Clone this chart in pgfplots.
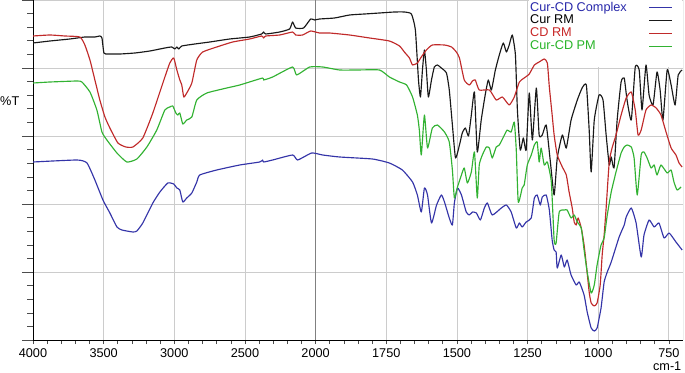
\documentclass[border=0pt]{standalone}
\usepackage{pgfplots}
\pgfplotsset{compat=1.18}
\usepackage{fontspec}
\setmainfont{Liberation Sans}
\definecolor{cblue}{RGB}{52,52,168}
\definecolor{cblack}{RGB}{25,25,25}
\definecolor{cred}{RGB}{192,42,42}
\definecolor{cgreen}{RGB}{50,178,50}
\definecolor{tblue}{RGB}{40,40,170}
\definecolor{tred}{RGB}{200,40,40}
\definecolor{tgreen}{RGB}{40,180,40}
\newcommand{\fs}{\fontsize{12.7}{15}\selectfont}
\begin{document}
\fs
\begin{tikzpicture}
\begin{axis}[
  scale only axis, width=650pt, height=340pt,
  xmin=0, xmax=9.2, ymin=0, ymax=340,
  axis x line*=bottom, axis y line*=left,
  axis line style={black, line width=0.8pt},
  xtick={0,...,9}, xticklabels={}, xmajorticks=false, xmajorgrids=true,
  ytick={0,68,...,340}, yticklabels={}, minor y tick num=4,
  ymajorgrids=true,
  tick align=outside, major tick length=11pt, minor tick length=6pt,
  tick style={black!70, line width=0.6pt},
  major grid style={color=black!20, line width=0.8pt},
  x filter/.expression={x>=2000 ? (4000-x)/500 : 4+(2000-x)/250},
  every axis plot/.append style={line width=1.15pt, smooth, tension=0.3, line join=round},
  legend cell align=left, legend plot pos=right,
  legend image code/.code={\draw[#1, line width=1pt, sharp plot] (0pt,0pt) -- (23pt,0pt);},
  legend style={at={(rel axis cs:0.7646,0.996)}, anchor=north west, draw=none, fill=none,
    inner sep=0pt, row sep=0.3pt, column sep=22pt,
    nodes={inner sep=0pt, text height=9.5pt, text depth=3pt, font=\fs}},
]
\fill[white] (rel axis cs:0.7625,0.803) rectangle (rel axis cs:0.998,1);
\draw[black!50, line width=0.9pt] (rel axis cs:0.43478,0) -- (rel axis cs:0.43478,1);
\draw[black!55, line width=0.8pt] (rel axis cs:1,0) -- (rel axis cs:1,1);
\coordinate (SW) at (rel axis cs:0,0);
\coordinate (SE) at (rel axis cs:1,0);
\coordinate (NE) at (rel axis cs:1,1);

\addplot[cblue] coordinates {(4000,178)(3689,180)(3618,177)(3562,160)(3505,140)(3456,127)(3406,113)(3371,110)(3293,108)(3265,109)(3223,117)(3152,137)(3102,148)(3046,157)(3004,156)(2982,152)(2961,150)(2940,138)(2912,142)(2876,147)(2841,158)(2820,165)(2700,170)(2537,175)(2396,178)(2375,180)(2368,178)(2304,180)(2163,185)(2127,180)(2028,187)(1975,185)(1915,183)(1799,181)(1739,177)(1693,170)(1657,158)(1640,145)(1626,128)(1615,152)(1604,145)(1590,117)(1572,135)(1555,145)(1544,138)(1527,122)(1516,115)(1509,137)(1498,152)(1484,145)(1467,128)(1456,125)(1445,128)(1431,127)(1417,120)(1403,132)(1392,137)(1375,125)(1343,132)(1325,135)(1308,128)(1290,112)(1279,117)(1269,113)(1255,118)(1237,122)(1226,142)(1216,145)(1205,135)(1198,143)(1184,145)(1173,130)(1163,100)(1156,90)(1149,88)(1145,72)(1131,85)(1120,73)(1110,80)(1096,65)(1078,55)(1067,58)(1050,45)(1039,28)(1025,12)(1014,9)(1004,12)(990,32)(979,58)(968,68)(954,78)(926,103)(908,115)(901,123)(883,132)(866,117)(848,83)(838,105)(820,120)(802,113)(785,117)(767,102)(749,107)(725,98)(703,90)};
\addlegendentry{\textcolor{tblue}{Cur-CD Complex}}

\addplot[cblack] coordinates {(4000,297)(3880,299)(3739,301)(3633,303)(3562,303)(3527,304)(3512,302)(3498,287)(3470,286)(3385,286)(3279,287)(3173,289)(3067,292)(3018,293)(2996,291)(2982,293)(2968,291)(2947,294)(2855,296)(2749,298)(2608,301)(2467,303)(2382,306)(2368,308)(2353,306)(2254,308)(2184,311)(2163,318)(2141,312)(2085,312)(2035,321)(2007,320)(1986,321)(1933,322)(1880,325)(1827,326)(1774,327)(1721,328)(1686,328)(1661,326)(1647,310)(1636,260)(1629,243)(1622,270)(1615,290)(1608,270)(1601,243)(1590,260)(1580,273)(1569,275)(1555,272)(1537,267)(1527,250)(1516,215)(1505,182)(1491,195)(1481,207)(1470,212)(1459,204)(1449,225)(1438,248)(1428,188)(1414,220)(1400,245)(1389,260)(1378,250)(1364,270)(1350,285)(1336,297)(1325,288)(1315,295)(1304,305)(1293,285)(1286,230)(1276,190)(1265,202)(1255,190)(1244,247)(1233,200)(1219,252)(1209,205)(1198,205)(1184,215)(1170,180)(1156,145)(1145,182)(1127,205)(1113,192)(1096,220)(1074,240)(1057,252)(1042,255)(1032,210)(1025,168)(1014,220)(997,245)(983,240)(972,205)(961,175)(954,183)(944,172)(933,220)(919,258)(908,262)(898,240)(883,220)(869,273)(855,270)(845,230)(831,275)(820,245)(806,235)(792,268)(781,250)(771,220)(756,270)(742,255)(728,235)(717,265)(703,270)};
\addlegendentry{Cur RM}

\addplot[cred] coordinates {(4000,304)(3880,305)(3774,304)(3668,303)(3633,295)(3597,280)(3562,260)(3527,240)(3491,223)(3456,212)(3399,197)(3343,193)(3293,193)(3223,202)(3152,227)(3081,257)(3032,277)(3004,282)(2982,270)(2961,260)(2947,255)(2933,243)(2912,247)(2876,257)(2841,280)(2799,288)(2700,293)(2587,298)(2467,301)(2382,304)(2368,302)(2353,304)(2254,305)(2163,308)(2141,305)(2092,305)(2035,309)(1986,307)(1951,307)(1880,305)(1809,302)(1739,299)(1703,294)(1686,288)(1668,282)(1657,275)(1640,277)(1626,283)(1608,290)(1587,295)(1544,295)(1519,293)(1502,288)(1491,282)(1474,260)(1456,255)(1445,259)(1435,260)(1421,250)(1385,250)(1361,240)(1339,243)(1315,235)(1297,243)(1279,258)(1262,262)(1244,266)(1226,275)(1209,278)(1191,281)(1180,277)(1173,253)(1163,225)(1156,205)(1145,185)(1127,173)(1113,165)(1103,148)(1092,132)(1085,118)(1078,115)(1071,122)(1060,112)(1050,95)(1042,75)(1032,48)(1025,37)(1014,34)(1004,37)(993,55)(986,85)(979,105)(972,132)(961,178)(951,192)(937,205)(919,225)(901,242)(883,248)(869,230)(859,205)(848,210)(831,230)(813,235)(795,232)(778,225)(760,208)(742,192)(725,185)(714,177)(703,173)};
\addlegendentry{\textcolor{tred}{CD RM}}

\addplot[cgreen] coordinates {(4000,257)(3880,258)(3689,259)(3654,258)(3597,248)(3548,230)(3512,208)(3477,200)(3406,187)(3336,178)(3265,181)(3194,193)(3124,210)(3067,230)(3032,233)(3011,234)(2989,227)(2975,225)(2961,227)(2940,216)(2912,220)(2876,223)(2841,240)(2770,247)(2629,252)(2537,255)(2375,262)(2368,260)(2304,263)(2163,273)(2134,265)(2042,273)(1975,273)(1915,270)(1855,270)(1774,270)(1739,263)(1703,258)(1678,255)(1657,243)(1640,225)(1633,210)(1626,185)(1615,225)(1604,192)(1587,212)(1569,215)(1544,208)(1527,198)(1516,170)(1509,142)(1498,153)(1484,165)(1474,172)(1463,157)(1449,168)(1438,188)(1428,142)(1421,175)(1410,185)(1396,193)(1385,192)(1375,182)(1361,193)(1350,195)(1332,205)(1322,210)(1308,208)(1297,218)(1290,190)(1283,138)(1269,152)(1262,155)(1251,175)(1237,185)(1226,195)(1216,198)(1209,178)(1202,192)(1191,175)(1180,178)(1166,158)(1156,100)(1149,97)(1138,128)(1120,130)(1110,130)(1096,122)(1085,125)(1074,118)(1060,112)(1050,90)(1039,68)(1025,47)(1014,55)(1004,75)(990,95)(979,102)(968,125)(954,148)(937,168)(919,187)(908,193)(898,195)(883,193)(873,182)(862,145)(848,185)(838,188)(827,182)(813,172)(802,175)(792,165)(778,175)(756,167)(742,170)(732,158)(721,150)(707,153)};
\addlegendentry{\textcolor{tgreen}{Cur-CD PM}}
\end{axis}
\begin{axis}[
  scale only axis, width=650pt, height=340pt,
  xmin=0, xmax=9.2, ymin=0, ymax=340,
  axis x line*=bottom, axis y line=none,
  axis line style={black, line width=0.8pt},
  ytick=\empty,
  xtick={0,...,9}, xticklabels={4000,3500,3000,2500,2000,1750,1500,1250,1000,750},
  minor x tick num=4,
  tick align=outside, major tick length=4pt, minor tick length=4pt,
  tick style={black!70, line width=0.6pt},
  xticklabel style={font=\fs, anchor=north, inner sep=0pt, yshift=-4pt},
]
\addplot[draw=none, forget plot] coordinates {(0,0)};
\end{axis}
\node[anchor=east, inner sep=0pt, font=\fs] at ([xshift=-13.5pt,yshift=239pt]SW) {\%T};
\node[anchor=base east, inner sep=0pt, font=\fs] at ([xshift=-1.5pt,yshift=-30pt]SE) {cm-1};
\pgfresetboundingbox
\useasboundingbox ([xshift=-33pt,yshift=-32pt]SW) rectangle ([xshift=2pt]NE);
\end{tikzpicture}
\end{document}
